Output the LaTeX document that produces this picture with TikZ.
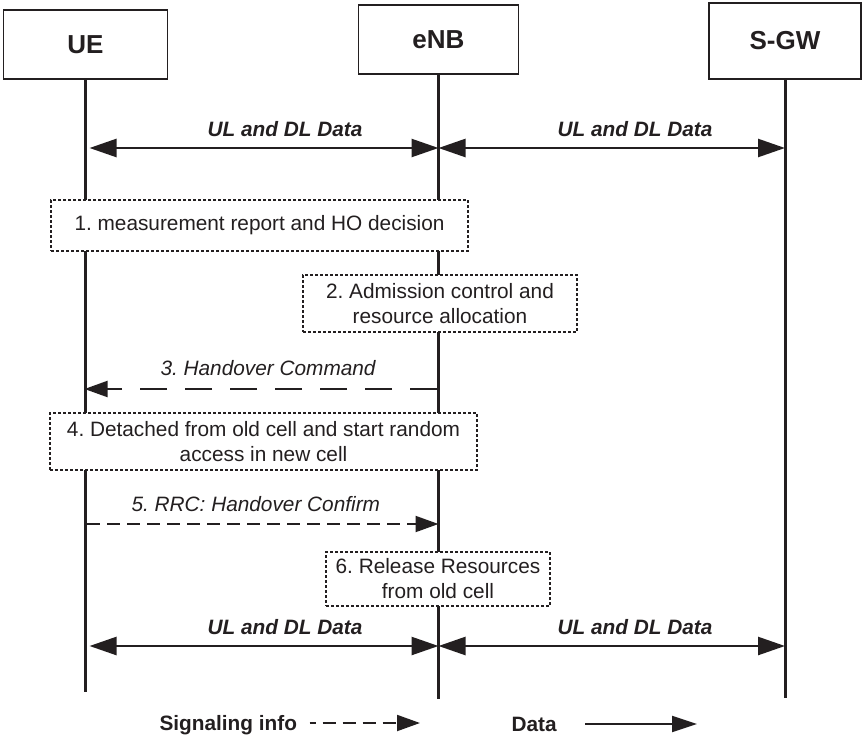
\documentclass[tikz,border=0pt]{standalone}
\usepackage{fontspec}
\setmainfont{Liberation Sans}
\usetikzlibrary{arrows.meta}
\definecolor{ink}{RGB}{35,31,32}
\frenchspacing
\begin{document}
\begin{tikzpicture}[x=1pt,y=-1pt,
  every node/.style={text=ink, font=\fontsize{20.8}{25}\selectfont},
  entity/.style={draw=ink, line width=1.5pt, fill=white, inner sep=0pt,
    font=\fontsize{26}{30}\selectfont\bfseries},
  lifeline/.style={draw=ink, line width=3pt},
  stepbox/.style={draw=ink, line width=1.4pt, dash pattern=on 3pt off 2pt,
    fill=white, inner sep=0pt, align=center},
  datalbl/.style={anchor=base, font=\fontsize{20.8}{25}\selectfont\bfseries\itshape},
  msglbl/.style={anchor=base west, font=\fontsize{20.8}{25}\selectfont\itshape},
  legendlbl/.style={anchor=base west, font=\fontsize{20.8}{25}\selectfont\bfseries},
  dataflow/.style={draw=ink, line width=2.5pt, {Triangle[length=27pt,width=18pt]}-{Triangle[length=27pt,width=18pt]}},
  signal/.style={draw=ink, line width=2pt, -{Triangle[length=23pt,width=16pt]}}
]
\useasboundingbox (0,0) rectangle (862,739);

% entities
\node[entity, minimum width=164pt, minimum height=69pt] (ue)  at (85.5,44.5) {UE};
\node[entity, minimum width=160pt, minimum height=69pt] (enb) at (438.5,39.5) {eNB};
\node[entity, minimum width=152pt, minimum height=76pt] (sgw) at (785,41) {S-GW};

% lifeline ends
\coordinate (ueEnd)  at (85.5,692);
\coordinate (enbEnd) at (438.5,699);
\coordinate (sgwEnd) at (785,698);
\draw[lifeline] (ue.south) -- (ueEnd);
\draw[lifeline] (enb.south) -- (enbEnd);
\draw[lifeline] (sgw.south) -- (sgwEnd);

% user data before handover
\coordinate (ueA)  at (85.5,148);
\coordinate (enbA) at (438.5,148);
\coordinate (sgwA) at (785,148);
\draw[dataflow, shorten <=4pt] (ueA) -- (enbA);
\draw[dataflow] (enbA) -- (sgwA);
\node[datalbl] (dA1) at (285,136) {UL and DL Data};
\node[datalbl] (dA2) at (635,136) {UL and DL Data};

% step 1
\node[stepbox, minimum width=417pt, minimum height=51pt] (s1) at (259.5,225.5)
  {1. measurement report and HO decision};

% step 2
\node[stepbox, minimum width=274pt, minimum height=57pt] (s2) at (440,303.5)
  {2. Admission control and\\resource allocation};

% step 3: handover command
\coordinate (ue3)  at (85.5,389);
\coordinate (enb3) at (437,389);
\draw[signal, dash pattern=on 27pt off 18pt, shorten >=-1pt] (enb3) -- (ue3);
\node[msglbl] (m3) at (157,375) {3. Handover Command};

% step 4
\node[stepbox, minimum width=427pt, minimum height=57pt] (s4) at (263.5,441.5)
  {4. Detached from old cell and start random\\access in new cell};

% step 5: handover confirm
\coordinate (ue5)  at (87,524);
\coordinate (enb5) at (438.5,524);
\draw[signal, dash pattern=on 13pt off 7pt] (ue5) -- (enb5);
\node[msglbl] (m5) at (128,511) {5. RRC: Handover Confirm};

% step 6
\node[stepbox, minimum width=224pt, minimum height=54pt] (s6) at (438,579)
  {6. Release Resources\\from old cell};

% user data after handover
\coordinate (ueB)  at (85.5,646);
\coordinate (enbB) at (438.5,646);
\coordinate (sgwB) at (785,646);
\draw[dataflow, shorten <=4pt] (ueB) -- (enbB);
\draw[dataflow] (enbB) -- (sgwB);
\node[datalbl] (dB1) at (285,634) {UL and DL Data};
\node[datalbl] (dB2) at (635,634) {UL and DL Data};

% legend
\node[legendlbl] (lsig) at (156,730) {Signaling info};
\coordinate (lsigEnd) at (420,723);
\draw[signal, dash pattern=on 13pt off 7pt, dash phase=7pt]
  ([xshift=9pt]lsig.east |- lsigEnd) -- (lsigEnd);
\node[legendlbl] (ldata) at (508,731) {Data};
\coordinate (ldataEnd) at (697,724);
\draw[draw=ink, line width=2pt, -{Triangle[length=25pt,width=16pt]}]
  ([xshift=25pt]ldata.east |- ldataEnd) -- (ldataEnd);
\end{tikzpicture}
\end{document}
